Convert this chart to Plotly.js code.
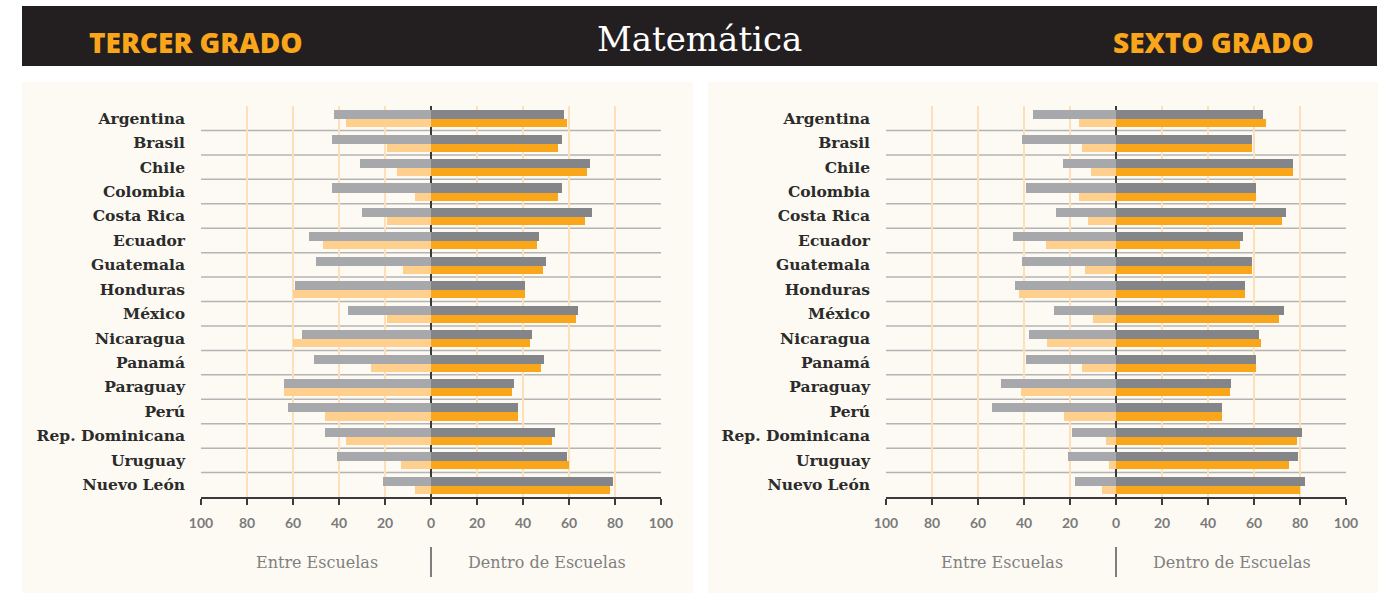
<!DOCTYPE html>
<html>
<head>
<meta charset="utf-8">
<script src="https://cdn.plot.ly/plotly-3.0.1.min.js"></script>
<style>html,body{margin:0;padding:0;background:#fff;}#chart{width:1383px;height:593px;}</style>
</head>
<body>
<div id="chart"></div>
<script>
var categories = ['Argentina','Brasil','Chile','Colombia','Costa Rica','Ecuador','Guatemala','Honduras','México','Nicaragua','Panamá','Paraguay','Perú','Rep. Dominicana','Uruguay','Nuevo León'];
var tickValues = [-100,-80,-60,-40,-20,0,20,40,60,80,100];
var tickLabels = ['100','80','60','40','20','0','20','40','60','80','100'];

// Tercer grado
var entreGris3 = [42,43,31,43,30,53,50,59,36,56,51,64,62,46,41,21];
var dentroGris3 = [58,57,69,57,70,47,50,41,64,44,49,36,38,54,59,79];
var entreNaranja3 = [37,19,15,7,19,47,12,60,19,60,26,64,46,37,13,7];
var dentroNaranja3 = [59,55,68,55,67,46,48.5,41,63,43,48,35,38,52.5,60,78];

// Sexto grado
var entreGris6 = [36,41,23,39,26,45,41,44,27,38,39,50,54,19,21,18];
var dentroGris6 = [64,59,77,61,74,55,59,56,73,62,61,50,46,81,79,82];
var entreNaranja6 = [16,15,11,16,12,30.5,13.5,42,10,30,15,41.5,22.5,4.5,3,6];
var dentroNaranja6 = [65,59,77,61,72,54,59,56,71,63,61,49.5,46,78.5,75,80];

var W = 1383, H = 593;
function px(x){ return x / W; }
function py(y){ return 1 - y / H; }

var C = {
  grisClaro: '#a7a8ab', grisOscuro: '#848589',
  naranjaClaro: '#fecf8d', naranja: '#f9a61b'
};

function neg(a){ return a.map(function(v){ return -v; }); }

function barsFor(eg, dg, en, dn, xa, ya){
  var common = {type:'bar', orientation:'h', y:categories, xaxis:xa, yaxis:ya, hoverinfo:'skip', showlegend:false};
  var gOff = -0.33, gW = 0.37, oOff = 0.04, oW = 0.33;
  return [
    Object.assign({}, common, {x:neg(eg), offset:gOff, width:gW, marker:{color:C.grisClaro}}),
    Object.assign({}, common, {x:dg, offset:gOff, width:gW, marker:{color:C.grisOscuro}}),
    Object.assign({}, common, {x:neg(en), offset:oOff, width:oW, marker:{color:C.naranjaClaro}}),
    Object.assign({}, common, {x:dn, offset:oOff, width:oW, marker:{color:C.naranja}})
  ];
}

var data = [].concat(
  barsFor(entreGris3, dentroGris3, entreNaranja3, dentroNaranja3, 'x', 'y'),
  barsFor(entreGris6, dentroGris6, entreNaranja6, dentroNaranja6, 'x2', 'y2')
);

function xAxis(domain, anchor){
  return {
    domain: domain, anchor: anchor, range: [-100, 100], fixedrange: true,
    tickmode: 'array', tickvals: tickValues, ticktext: tickLabels,
    showgrid: true, gridcolor: '#fde0b9', gridwidth: 2,
    zeroline: true, zerolinecolor: '#3a3a3a', zerolinewidth: 2,
    showline: true, linecolor: '#3a3a3a', linewidth: 2,
    ticks: 'outside', ticklen: 6, tickwidth: 2, tickcolor: '#3a3a3a',
    ticklabelstandoff: 6,
    tickfont: {family: 'Lato', size: 14, color: '#7b7b7b', weight: 700}
  };
}
function yAxis(domain, anchor){
  return {
    domain: domain, anchor: anchor, type: 'category', range: [15.5, -0.5], fixedrange: true,
    showgrid: false, zeroline: false, showline: false, ticks: '',
    ticklabelstandoff: 15,
    tickfont: {family: 'DejaVu Serif', size: 15.5, color: '#2b2b2b', weight: 700}
  };
}

var yDom = [py(497), py(106)];
var shapes = [];
// backgrounds
shapes.push({type:'rect', xref:'paper', yref:'paper', x0:px(22), x1:px(693), y0:py(593), y1:py(82), fillcolor:'#fdfaf3', line:{width:0}, layer:'below'});
shapes.push({type:'rect', xref:'paper', yref:'paper', x0:px(708), x1:px(1378), y0:py(593), y1:py(82), fillcolor:'#fdfaf3', line:{width:0}, layer:'below'});
shapes.push({type:'rect', xref:'paper', yref:'paper', x0:px(22), x1:px(1377), y0:py(66), y1:py(6), fillcolor:'#231f20', line:{width:0}, layer:'below'});
// row separators
[['x','y'],['x2','y2']].forEach(function(ax){
  for (var i = 0; i < categories.length - 1; i++){
    shapes.push({type:'line', xref:ax[0], yref:ax[1], x0:-100, x1:100, y0:i+0.5, y1:i+0.5, line:{color:'#b4b4b4', width:1.5}, layer:'below'});
  }
});
// bottom dividers
shapes.push({type:'line', xref:'x', yref:'paper', x0:0, x1:0, y0:py(577), y1:py(547), line:{color:'#555', width:1.5}});
shapes.push({type:'line', xref:'x2', yref:'paper', x0:0, x1:0, y0:py(577), y1:py(547), line:{color:'#555', width:1.5}});

var hdrFont = {family:'Open Sans', size:28, color:'#f9a61b', weight:800};
var subFont = {family:'DejaVu Serif', size:16, color:'#808080'};
var annotations = [
  {text:'TERCER GRADO', x:px(196), y:py(42), xref:'paper', yref:'paper', showarrow:false, xanchor:'center', yanchor:'middle', font:hdrFont},
  {text:'SEXTO GRADO', x:px(1213), y:py(42), xref:'paper', yref:'paper', showarrow:false, xanchor:'center', yanchor:'middle', font:hdrFont},
  {text:'Matemática', x:px(699), y:py(39), xref:'paper', yref:'paper', showarrow:false, xanchor:'center', yanchor:'middle', font:{family:'DejaVu Serif', size:34, color:'#ffffff'}},
  {text:'Entre Escuelas', x:px(317), y:py(562), xref:'paper', yref:'paper', showarrow:false, xanchor:'center', yanchor:'middle', font:subFont},
  {text:'Dentro de Escuelas', x:px(547), y:py(562), xref:'paper', yref:'paper', showarrow:false, xanchor:'center', yanchor:'middle', font:subFont},
  {text:'Entre Escuelas', x:px(1002), y:py(562), xref:'paper', yref:'paper', showarrow:false, xanchor:'center', yanchor:'middle', font:subFont},
  {text:'Dentro de Escuelas', x:px(1232), y:py(562), xref:'paper', yref:'paper', showarrow:false, xanchor:'center', yanchor:'middle', font:subFont}
];

var layout = {
  width: W, height: H,
  margin: {l:0, r:0, t:0, b:0},
  paper_bgcolor: '#ffffff', plot_bgcolor: 'rgba(0,0,0,0)',
  barmode: 'overlay', bargap: 0,
  xaxis: xAxis([px(201), px(661)], 'y'),
  yaxis: yAxis(yDom, 'x'),
  xaxis2: xAxis([px(886), px(1346)], 'y2'),
  yaxis2: yAxis(yDom, 'x2'),
  shapes: shapes,
  annotations: annotations
};

Plotly.newPlot('chart', data, layout, {displayModeBar:false, staticPlot:true});
</script>
</body>
</html>
